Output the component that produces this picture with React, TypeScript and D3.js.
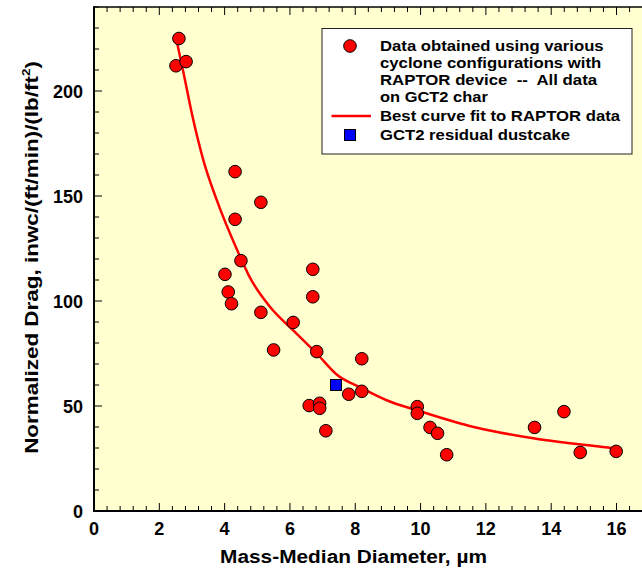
import { useRef, useEffect } from 'react';
import * as d3 from 'd3';

// RAPTOR device measurements (mass-median diameter, normalized drag)
const DIAMETER = [2.6, 2.51, 2.82, 4.32, 5.11, 4.32, 4.5, 4.01, 4.11, 4.21, 5.11, 6.7, 6.7, 6.1, 5.5, 6.82, 8.2, 7.8, 8.2, 6.59, 6.91, 6.91, 7.1, 9.9, 9.9, 10.29, 10.52, 10.8, 13.49, 14.39, 14.89, 15.99];
const DRAG = [225, 212, 214, 161.6, 147, 138.9, 119.2, 112.7, 104.3, 98.7, 94.6, 115.1, 102.0, 89.8, 76.7, 75.9, 72.5, 55.6, 57.0, 50.2, 51.3, 48.9, 38.2, 49.7, 46.5, 39.8, 37.0, 26.8, 39.8, 47.3, 27.9, 28.4];

// best curve fit
const FIT_X = [2.53, 2.75, 3.0, 3.35, 3.76, 4.42, 4.78, 5.4, 6.1, 6.82, 7.43, 8.2, 9.0, 9.88, 11.5, 13.45, 16.0];
const FIT_Y = [224, 208, 189, 167, 148, 123, 111, 97, 86, 75, 65, 58.5, 52.5, 48, 40.5, 34.6, 29.8];

// GCT2 residual dustcake
const CAKE_X = [7.41];
const CAKE_Y = [60];

const X_TICKS = [0, 2, 4, 6, 8, 10, 12, 14, 16];
const Y_TICKS = [0, 50, 100, 150, 200];

const LEGEND_LINES = [
  'Data obtained using various',
  'cyclone configurations with',
  'RAPTOR device  --  All data',
  'on GCT2 char',
  'Best curve fit to RAPTOR data',
  'GCT2 residual dustcake',
];

const W = 642;
const H = 581;
const FONT = '"Liberation Sans", Arial, Helvetica, sans-serif';

// the original's lettering runs a little wider than Liberation Sans
function stretch(sel: any, width: number, base: string) {
  const w = sel.node().getBBox().width;
  sel.attr('transform', `${base} scale(${width / w},1)`);
}

export default function App() {
  const svgRef = useRef<SVGSVGElement>(null);

  useEffect(() => {
    document.body.style.margin = '0';
    const svg = d3.select(svgRef.current);
    svg.selectAll('*').remove();

    const x = d3.scaleLinear().domain([0, 16]).range([94, 616.5]);
    const y = d3.scaleLinear().domain([0, 240]).range([511, 7]);
    const xMax = 18;

    svg.append('rect').attr('width', W).attr('height', H).attr('fill', '#ffffff');

    // plot panel
    svg.append('rect')
      .attr('x', x(0)).attr('y', y(240))
      .attr('width', x(xMax) - x(0)).attr('height', y(0) - y(240))
      .attr('fill', '#ffffd0');

    const g = svg.append('g');

    // ticks (inward)
    const minorX = d3.range(0, xMax + 0.001, 0.4);
    minorX.forEach(v => {
      const major = Math.abs(v / 2 - Math.round(v / 2)) < 1e-6;
      const len = major ? 8 : 5;
      g.append('line').attr('x1', x(v)).attr('x2', x(v)).attr('y1', y(0)).attr('y2', y(0) - len)
        .attr('stroke', '#000').attr('stroke-width', 1);
      g.append('line').attr('x1', x(v)).attr('x2', x(v)).attr('y1', y(240)).attr('y2', y(240) + len)
        .attr('stroke', '#000').attr('stroke-width', 1);
    });
    d3.range(0, 241, 10).forEach(v => {
      const len = v % 50 === 0 ? 8 : 5;
      g.append('line').attr('x1', x(0)).attr('x2', x(0) + len).attr('y1', y(v)).attr('y2', y(v))
        .attr('stroke', '#000').attr('stroke-width', 1);
    });

    // frame
    g.append('line').attr('x1', x(0)).attr('x2', x(xMax)).attr('y1', y(240)).attr('y2', y(240))
      .attr('stroke', '#000').attr('stroke-width', 1.5);
    g.append('line').attr('x1', x(0)).attr('x2', x(0)).attr('y1', y(240) - 0.75).attr('y2', y(0) + 1)
      .attr('stroke', '#000').attr('stroke-width', 2);
    g.append('line').attr('x1', x(0) - 1).attr('x2', x(xMax)).attr('y1', y(0)).attr('y2', y(0))
      .attr('stroke', '#000').attr('stroke-width', 2);

    // tick labels
    g.selectAll('.xl').data(X_TICKS).join('text')
      .attr('x', d => x(d)).attr('y', 535)
      .attr('text-anchor', 'middle')
      .attr('font-family', FONT).attr('font-weight', 'bold').attr('font-size', 18)
      .text(d => d);
    g.selectAll('.yl').data(Y_TICKS).join('text')
      .attr('x', 83).attr('y', d => y(d) + 6.5)
      .attr('text-anchor', 'end')
      .attr('font-family', FONT).attr('font-weight', 'bold').attr('font-size', 18)
      .text(d => d);

    // axis titles
    const xt = svg.append('text')
      .attr('x', 0).attr('y', 0)
      .attr('text-anchor', 'middle')
      .attr('font-family', FONT).attr('font-weight', 'bold').attr('font-size', 18.5)
      .text('Mass-Median Diameter, \u00b5m');
    stretch(xt, 267, 'translate(353.5,563)');

    const yt = svg.append('text')
      .attr('text-anchor', 'middle')
      .attr('font-family', FONT).attr('font-weight', 'bold').attr('font-size', 18.5);
    yt.append('tspan').text('Normalized Drag, inwc/(ft/min)/(lb/ft');
    yt.append('tspan').attr('font-size', 11).attr('dy', -8).text('2');
    yt.append('tspan').attr('dy', 8).text(')');
    stretch(yt, 393, `translate(38,257.5) rotate(-90)`);

    // fit curve
    const line = d3.line<number>()
      .x((_, i) => x(FIT_X[i]))
      .y(d => y(d))
      .curve(d3.curveMonotoneX);
    g.append('path').attr('d', line(FIT_Y))
      .attr('fill', 'none').attr('stroke', '#ff0000').attr('stroke-width', 2.5);

    // data points
    g.selectAll('.pt').data(DRAG).join('circle')
      .attr('cx', (_, i) => x(DIAMETER[i])).attr('cy', d => y(d))
      .attr('r', 6.3)
      .attr('fill', '#ff0000').attr('stroke', '#000').attr('stroke-width', 1);

    g.selectAll('.cake').data(CAKE_Y).join('rect')
      .attr('x', (_, i) => x(CAKE_X[i]) - 5.5).attr('y', d => y(d) - 5.5)
      .attr('width', 11).attr('height', 11)
      .attr('fill', '#0000ff').attr('stroke', '#000').attr('stroke-width', 1);

    // legend
    const lg = svg.append('g');
    lg.append('rect').attr('x', 322).attr('y', 28.5).attr('width', 310).attr('height', 125.5)
      .attr('fill', '#ffffff').attr('stroke', '#222').attr('stroke-width', 1);
    lg.append('circle').attr('cx', 350).attr('cy', 46).attr('r', 6.3)
      .attr('fill', '#ff0000').attr('stroke', '#000').attr('stroke-width', 1);
    lg.append('line').attr('x1', 331.5).attr('x2', 371).attr('y1', 116).attr('y2', 116)
      .attr('stroke', '#ff0000').attr('stroke-width', 2.5);
    lg.append('rect').attr('x', 344.5).attr('y', 129.5).attr('width', 11).attr('height', 11)
      .attr('fill', '#0000ff').attr('stroke', '#000').attr('stroke-width', 1);
    const rows = [46, 63, 80, 97, 116, 135];
    const widths = [224, 221.5, 217.5, 108.5, 240.5, 190.5];
    LEGEND_LINES.forEach((txt, i) => {
      const t = lg.append('text')
        .attr('x', 0).attr('y', 0)
        .style('white-space', 'pre')
        .attr('font-family', FONT).attr('font-weight', 'bold').attr('font-size', 14)
        .text(txt);
      stretch(t, widths[i], `translate(380,${rows[i] + 5})`);
    });
  }, []);

  return <svg ref={svgRef} width={W} height={H} style={{ display: 'block' }} />;
}
